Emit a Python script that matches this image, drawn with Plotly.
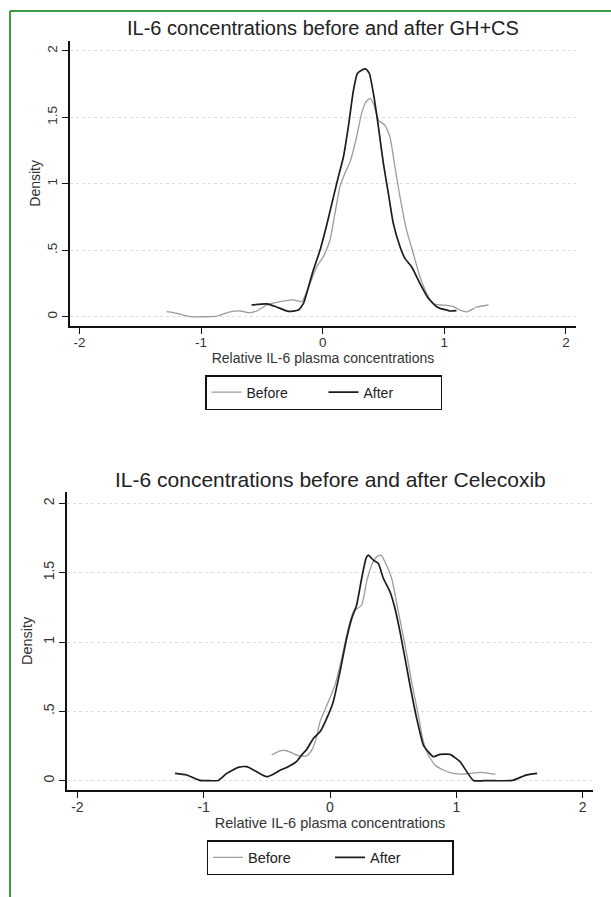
import plotly.graph_objects as go

# ---------------- data ----------------
gh_before_x = [-1.283, -1.20, -1.091, -0.871, -0.762, -0.679, -0.597, -0.542, -0.460, -0.350,
               -0.241, -0.173, -0.104, -0.049, 0.005, 0.060, 0.101, 0.142, 0.183, 0.225,
               0.279, 0.320, 0.356, 0.389, 0.422, 0.458, 0.512, 0.553, 0.594, 0.636,
               0.690, 0.745, 0.800, 0.855, 0.910, 0.965, 1.020, 1.075, 1.129, 1.185,
               1.267, 1.363]
gh_before_y = [0.038, 0.025, 0.000, 0.005, 0.037, 0.043, 0.030, 0.043, 0.088, 0.113,
               0.126, 0.113, 0.250, 0.376, 0.452, 0.577, 0.778, 0.980, 1.080, 1.165,
               1.354, 1.530, 1.617, 1.643, 1.592, 1.480, 1.440, 1.354, 1.128, 0.900,
               0.650, 0.476, 0.300, 0.176, 0.100, 0.088, 0.085, 0.075, 0.050, 0.037,
               0.073, 0.088]

gh_after_x = [-0.586, -0.460, -0.378, -0.282, -0.200, -0.158, -0.132, -0.077, -0.022, 0.033,
              0.088, 0.129, 0.170, 0.211, 0.252, 0.285, 0.320, 0.356, 0.384, 0.417,
              0.458, 0.499, 0.540, 0.581, 0.636, 0.676, 0.731, 0.800, 0.868, 0.937,
              0.965, 1.020, 1.047, 1.100]
gh_after_y = [0.088, 0.096, 0.073, 0.040, 0.050, 0.100, 0.175, 0.351, 0.500, 0.690,
              0.900, 1.054, 1.200, 1.430, 1.700, 1.830, 1.855, 1.864, 1.830, 1.680,
              1.430, 1.153, 0.928, 0.700, 0.527, 0.439, 0.376, 0.250, 0.138, 0.075,
              0.063, 0.050, 0.043, 0.045]

cx_before_x = [-0.462, -0.396, -0.343, -0.264, -0.185, -0.145, -0.110, -0.079, -0.013, 0.040,
               0.092, 0.145, 0.185, 0.251, 0.290, 0.330, 0.370, 0.404, 0.435, 0.488,
               0.541, 0.594, 0.646, 0.699, 0.739, 0.778, 0.831, 0.897, 0.976, 1.050,
               1.108, 1.200, 1.310]
cx_before_y = [0.185, 0.215, 0.216, 0.185, 0.178, 0.220, 0.300, 0.426, 0.570, 0.690,
               0.882, 1.099, 1.219, 1.267, 1.435, 1.555, 1.615, 1.627, 1.579, 1.460,
               1.219, 0.978, 0.714, 0.474, 0.281, 0.185, 0.113, 0.077, 0.053, 0.048,
               0.053, 0.060, 0.045]

cx_after_x = [-1.227, -1.135, -1.029, -0.950, -0.885, -0.818, -0.726, -0.660, -0.594, -0.502,
              -0.436, -0.396, -0.343, -0.264, -0.220, -0.185, -0.132, -0.079, -0.026, 0.026,
              0.079, 0.132, 0.172, 0.211, 0.251, 0.285, 0.303, 0.343, 0.383, 0.422,
              0.475, 0.514, 0.554, 0.594, 0.633, 0.686, 0.739, 0.778, 0.818, 0.871,
              0.950, 1.029, 1.135, 1.220, 1.300, 1.445, 1.550, 1.640]
cx_after_y = [0.053, 0.041, 0.002, 0.000, 0.002, 0.053, 0.096, 0.101, 0.072, 0.029,
              0.053, 0.075, 0.095, 0.140, 0.190, 0.225, 0.305, 0.353, 0.450, 0.570,
              0.786, 1.027, 1.170, 1.267, 1.460, 1.603, 1.627, 1.591, 1.567, 1.460,
              1.363, 1.243, 1.075, 0.882, 0.690, 0.450, 0.257, 0.209, 0.173, 0.190,
              0.190, 0.137, 0.002, 0.000, 0.000, 0.002, 0.040, 0.053]

x_ticks = [-2, -1, 0, 1, 2]
x_tick_text = ["-2", "-1", "0", "1", "2"]
y_ticks = [0, 0.5, 1, 1.5, 2]
y_tick_text = ["0", ".5", "1", "1.5", "2"]

titles = ["IL-6 concentrations before and after GH+CS",
          "IL-6 concentrations before and after Celecoxib"]
x_title = "Relative IL-6 plasma concentrations"
y_title = "Density"
series_names = ["Before", "After"]

# ---------------- styling ----------------
FONT = "Liberation Sans, Arial, Helvetica, sans-serif"
W, H = 611, 897
BEFORE_COLOR = "#9c9c9c"
AFTER_COLOR = "#1c1c1c"
GRID_COLOR = "#d6e0e0"


def px_x(p):
    return p / W


def px_y(p):
    return 1 - p / H


fig = go.Figure()

panels = [
    dict(bx=gh_before_x, by=gh_before_y, ax=gh_after_x, ay=gh_after_y,
         xa="x", ya="y", legend="legend"),
    dict(bx=cx_before_x, by=cx_before_y, ax=cx_after_x, ay=cx_after_y,
         xa="x2", ya="y2", legend="legend2"),
]

for p in panels:
    fig.add_trace(go.Scatter(x=p["bx"], y=p["by"], mode="lines", name=series_names[0],
                             line=dict(color=BEFORE_COLOR, width=1.3, shape="spline", smoothing=0.5),
                             xaxis=p["xa"], yaxis=p["ya"], legend=p["legend"]))
    fig.add_trace(go.Scatter(x=p["ax"], y=p["ay"], mode="lines", name=series_names[1],
                             line=dict(color=AFTER_COLOR, width=1.7, shape="spline", smoothing=0.5),
                             xaxis=p["xa"], yaxis=p["ya"], legend=p["legend"]))


def xaxis_cfg(domain, rng, fs, lstand, standoff):
    return dict(domain=domain, range=rng, tickvals=x_ticks, ticktext=x_tick_text,
                ticks="outside", ticklen=6, tickwidth=1.2, tickcolor="#111",
                showline=True, linecolor="#111", linewidth=1.5, showgrid=False,
                zeroline=False, tickfont=dict(family=FONT, size=fs, color="#333"),
                ticklabelstandoff=lstand,
                title=dict(text=x_title, font=dict(family=FONT, size=fs + 0.5, color="#333"),
                           standoff=standoff),
                fixedrange=True)


def yaxis_cfg(domain, rng, fs, lstand, standoff, anchor):
    return dict(domain=domain, range=rng, tickvals=y_ticks, ticktext=y_tick_text,
                tickangle=-90, ticks="outside", ticklen=6, tickwidth=1.2, tickcolor="#111",
                showline=True, linecolor="#111", linewidth=1.5, showgrid=True,
                gridcolor=GRID_COLOR, gridwidth=1, griddash="dot", zeroline=False,
                tickfont=dict(family=FONT, size=fs, color="#333"), ticklabelstandoff=lstand,
                title=dict(text=y_title, font=dict(family=FONT, size=fs + 0.5, color="#333"),
                           standoff=standoff),
                anchor=anchor, fixedrange=True)


fig.update_layout(
    width=W, height=H, margin=dict(l=0, r=0, t=0, b=0),
    paper_bgcolor="white", plot_bgcolor="white",
    xaxis=xaxis_cfg([px_x(70), px_x(576)], [-2.078, 2.083], 13.5, -3, 2) | dict(anchor="y"),
    yaxis=yaxis_cfg([px_y(326), px_y(40.7)], [-0.070, 2.077], 13.5, 0, 1, "x"),
    xaxis2=xaxis_cfg([px_x(67), px_x(593)], [-2.082, 2.082], 14, -3, 2) | dict(anchor="y2"),
    yaxis2=yaxis_cfg([px_y(790), px_y(491.7)], [-0.067, 2.084], 14, 0, 5, "x2"),
    legend=dict(x=px_x(205), y=px_y(375), xanchor="left", yanchor="top",
                orientation="h", bordercolor="#111", borderwidth=1.5,
                bgcolor="white", font=dict(family=FONT, size=14, color="#222"),
                entrywidth=72, entrywidthmode="pixels", tracegroupgap=0),
    legend2=dict(x=px_x(206.5), y=px_y(840), xanchor="left", yanchor="top",
                 orientation="h", bordercolor="#111", borderwidth=1.5,
                 bgcolor="white", font=dict(family=FONT, size=14.5, color="#222"),
                 entrywidth=77, entrywidthmode="pixels", tracegroupgap=0),
    showlegend=True,
)

# panel titles
fig.add_annotation(text=titles[0], x=px_x(323), y=px_y(28), xref="paper", yref="paper",
                   xanchor="center", yanchor="middle", showarrow=False,
                   font=dict(family=FONT, size=20, color="#222"))
fig.add_annotation(text=titles[1], x=px_x(330), y=px_y(479), xref="paper", yref="paper",
                   xanchor="center", yanchor="middle", showarrow=False,
                   font=dict(family=FONT, size=21, color="#222"))

# green frame (left and top edges)
frame_color = "#3f9a45"
fig.add_shape(type="line", xref="paper", yref="paper", x0=px_x(10), x1=px_x(10),
              y0=0, y1=px_y(11), line=dict(color=frame_color, width=2))
fig.add_shape(type="line", xref="paper", yref="paper", x0=px_x(10), x1=1,
              y0=px_y(11), y1=px_y(11), line=dict(color=frame_color, width=2))

fig.write_html("out.html")
